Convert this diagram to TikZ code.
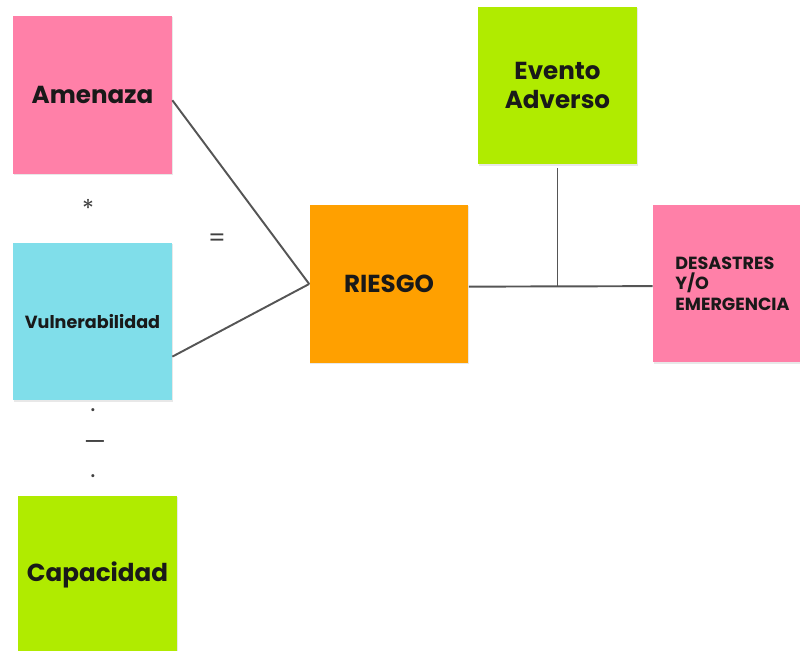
\documentclass[tikz,border=0pt]{standalone}
\usepackage{fontspec}
\setmainfont{Poppins}
\usetikzlibrary{shadows}

\definecolor{rosa}{HTML}{FF80A8}
\definecolor{celeste}{HTML}{80DEEA}
\definecolor{lima}{HTML}{B0EB00}
\definecolor{naranja}{HTML}{FFA000}
\definecolor{linea}{HTML}{555555}

\tikzset{
    nota/.style={minimum width=3.18cm, minimum height=3.16cm, inner sep=0pt,
        font=\bfseries\fontsize{14}{16}\selectfont, text=black!90, align=center,
        drop shadow={opacity=0.18, shadow xshift=0.4pt, shadow yshift=-0.6pt}},
    signo/.style={text=black!75, font=\fontsize{14}{16}\selectfont},
    enlace/.style={draw=linea, line width=1.1pt}
}

\begin{document}
\begin{tikzpicture}[x=0.02cm, y=-0.02cm]
        \useasboundingbox (0, 0) rectangle (800, 651);

        \node[nota, fill=rosa] (amenaza) at (92.5, 95) {Amenaza};
        \node[nota, fill=celeste, font=\bfseries\fontsize{10}{12}\selectfont] (vulnerabilidad) at (92.5, 321.5) {Vulnerabilidad};
        \node[nota, fill=lima] (capacidad) at (97.5, 575) {Capacidad};
        \node[nota, fill=naranja] (riesgo) at (389, 284) {RIESGO};
        \node[nota, fill=lima] (evento) at (557.5, 85.5) {Evento\\Adverso};
        \node[nota, fill=rosa, align=left, font=\bfseries\fontsize{10}{11.7}\selectfont] (desastres) at (732.5, 283.5) {DESASTRES\\Y/O\\EMERGENCIA};

        \node[signo] (por) at (88, 208) {*};
        \node[signo] (igual) at (217, 240) {=};
        \node[signo] (punto1) at (93, 410) {.};
        \node[signo] (raya) at (95, 446) {---};
        \node[signo] (punto2) at (93, 476) {.};

        \draw[enlace] ([yshift=-3pt]amenaza.east) -- (riesgo.west);
        \draw[enlace] ([yshift=-20pt]vulnerabilidad.east) -- (riesgo.west);
        \draw[enlace] ([yshift=-1.5pt]riesgo.east) -- ([yshift=-1.5pt]desastres.west);
        \coordinate (cruce) at ([yshift=-1.5pt]evento.south |- riesgo.east);
        \draw[enlace] ([yshift=-2pt]evento.south) -- (cruce);
    \end{tikzpicture}
\end{document}
